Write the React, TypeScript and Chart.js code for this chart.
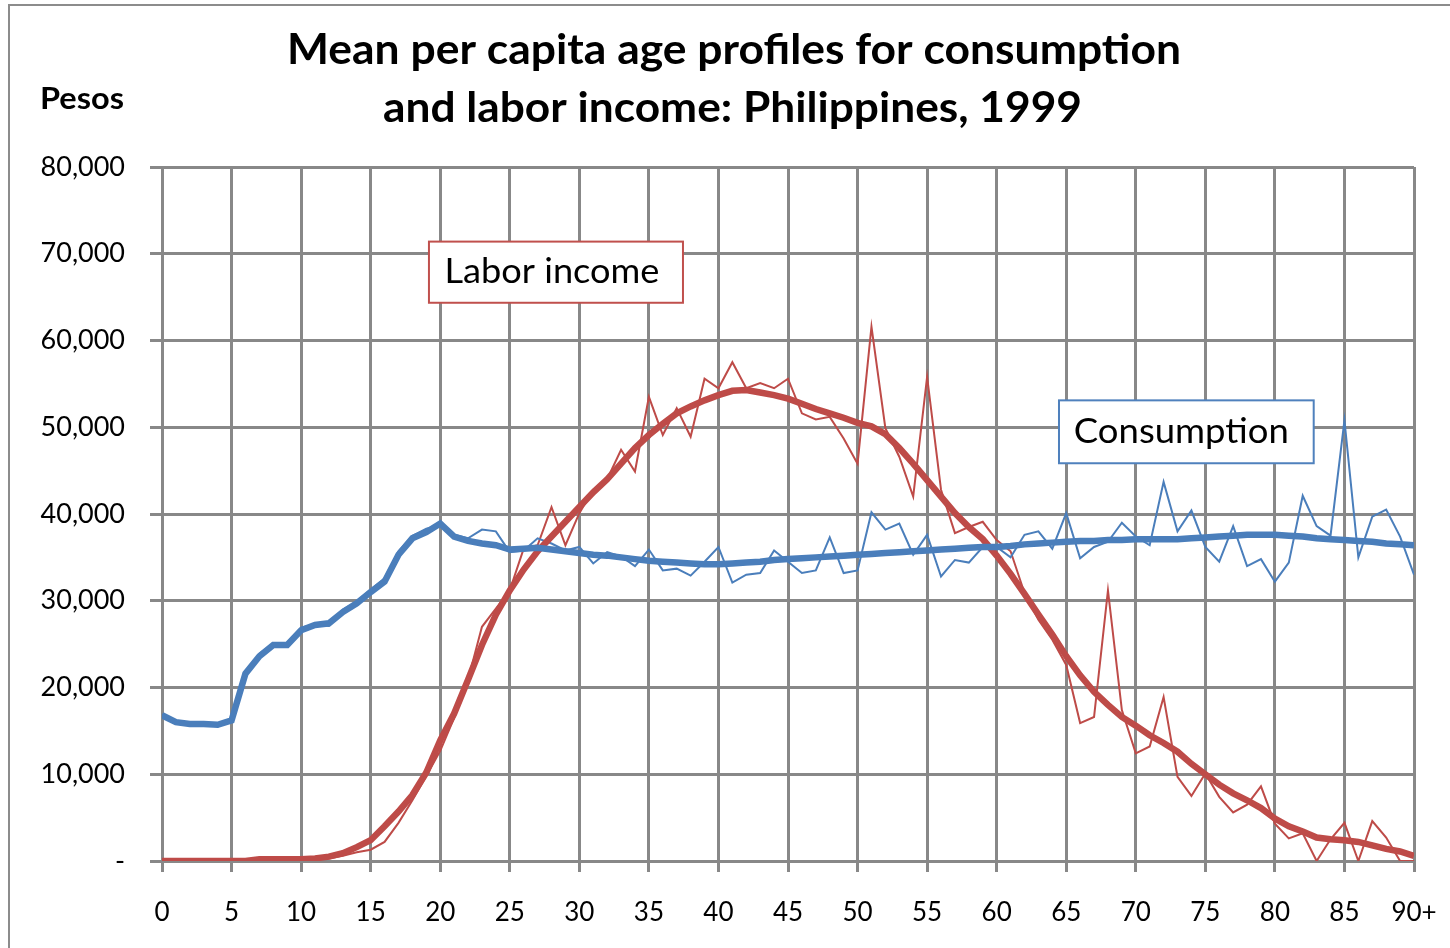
import React, { useEffect, useRef } from "react";
import { Chart, registerables } from "chart.js";

Chart.register(...registerables);

// Ages 0 .. 90 (90 = "90+")
const ages: number[] = Array.from({ length: 91 }, (_, i) => i);
const xTickValues = [0, 5, 10, 15, 20, 25, 30, 35, 40, 45, 50, 55, 60, 65, 70, 75, 80, 85, 90];
const xTickLabels = ["0", "5", "10", "15", "20", "25", "30", "35", "40", "45", "50", "55", "60", "65", "70", "75", "80", "85", "90+"];
const yTickValues = [0, 10000, 20000, 30000, 40000, 50000, 60000, 70000, 80000];
const yTickLabels = ["-", "10,000", "20,000", "30,000", "40,000", "50,000", "60,000", "70,000", "80,000"];

const titleLines = ["Mean per capita age profiles for consumption", "and labor income: Philippines, 1999"];
const yAxisTitle = "Pesos";

// Smoothed consumption profile (thick blue)
const consumptionSmooth = [
  16800, 16000, 15800, 15800, 15700, 16200, 21600, 23600, 24900, 24900, 26600, 27200, 27400, 28700, 29700, 31000, 32200, 35300, 37200, 37900, 38900,
  37400, 36900, 36600, 36400, 35900, 36000, 36100, 35900, 35700, 35500, 35300, 35200, 35000, 34800, 34600, 34500, 34400, 34300, 34200, 34200,
  34300, 34400, 34500, 34700, 34800, 34900, 35000, 35100, 35200, 35300, 35400, 35500, 35600, 35700, 35800, 35900, 36000, 36100, 36200, 36200,
  36300, 36500, 36600, 36700, 36800, 36900, 36900, 37000, 37000, 37100, 37100, 37100, 37100, 37200, 37300, 37400, 37500, 37600, 37600, 37600,
  37500, 37400, 37200, 37100, 37000, 36900, 36800, 36600, 36500, 36400,
];

// Raw consumption profile (thin blue)
const consumptionRaw = [
  16900, 16100, 15700, 16000, 15500, 16100, 21400, 23900, 25100, 24700, 26900, 27300, 27100, 29000, 29900, 31300, 32600, 35700, 37500, 38300, 38700,
  37600, 37200, 38200, 38000, 35600, 35800, 37200, 36600, 35800, 36200, 34300, 35600, 35100, 34000, 35900, 33500, 33700, 32900, 34500, 36200,
  32100, 33000, 33200, 35800, 34500, 33200, 33500, 37300, 33200, 33500, 40200, 38200, 38900, 35300, 37600, 32800, 34700, 34400, 36200, 36200,
  35000, 37600, 38000, 36000, 40100, 34900, 36200, 36800, 39000, 37400, 36400, 43700, 38000, 40400, 36200, 34500, 38600, 34000, 34800, 32200,
  34400, 42100, 38600, 37500, 50800, 35000, 39700, 40500, 37400, 33000,
];

// Smoothed labor income profile (thick red)
const laborSmooth = [
  0, 0, 0, 0, 0, 0, 0, 200, 200, 200, 200, 300, 500, 900, 1600, 2400, 4000, 5700, 7600, 10200, 13900,
  17000, 20900, 24900, 28400, 31200, 33600, 35700, 37400, 39100, 40800, 42500, 44000, 45800, 47600, 49100, 50400, 51600, 52400, 53100, 53700,
  54200, 54300, 54000, 53700, 53300, 52700, 52100, 51600, 51100, 50500, 50100, 49200, 47600, 45800, 43900, 42000, 40100, 38500, 37100, 35200,
  33100, 30800, 28400, 26100, 23600, 21400, 19500, 18000, 16600, 15600, 14500, 13600, 12600, 11200, 10000, 8800, 7800, 7000, 6100, 4900,
  4000, 3400, 2700, 2500, 2400, 2200, 1800, 1400, 1100, 600,
];

// Raw labor income profile (thin red)
const laborRaw = [
  0, 0, 0, 0, 0, 0, 0, 100, 100, 100, 100, 200, 300, 600, 1000, 1300, 2200, 4400, 7000, 9800, 12700,
  16500, 20900, 27000, 29100, 31200, 36000, 36400, 40800, 36400, 40100, 42800, 44000, 47400, 44900, 53500, 49100, 52200, 48900, 55600, 54500,
  57500, 54500, 55100, 54500, 55600, 51600, 50900, 51200, 48700, 45800, 61600, 49900, 46600, 42000, 55800, 42800, 37800, 38500, 39100, 37000,
  35700, 30900, 27800, 25500, 22600, 15900, 16600, 31200, 17400, 12400, 13200, 18900, 9700, 7500, 10100, 7400, 5600, 6500, 8600, 4300,
  2600, 3200, 0, 2500, 4400, 0, 4600, 2700, 0, 0,
];

const BLUE = "#4A7EBB";
const RED = "#BE4B48";
const BOX_BLUE = "#4F81BD";
const BOX_RED = "#C0504D";
const GRID = "#888888";
const FONT = "Lato, 'Open Sans', sans-serif";

// Annotation labels, placed in data units (age, pesos)
const annotationTexts = ["Labor income", "Consumption"];
const annotationColors = [BOX_RED, BOX_BLUE];
const annotationAgeLeft = [19.19, 64.48];
const annotationAgeRight = [37.45, 82.79];
const annotationTop = [71400, 53100];
const annotationBottom = [64350, 45850];
const annotationTextShift = [-4, -5];

function fitText(ctx: CanvasRenderingContext2D, text: string, cx: number, baseline: number, font: string, targetW: number) {
  ctx.save();
  ctx.font = font;
  const w = ctx.measureText(text).width;
  const s = targetW / w;
  ctx.translate(cx, baseline);
  ctx.scale(s, 1);
  ctx.textAlign = "center";
  ctx.textBaseline = "alphabetic";
  ctx.fillStyle = "#000";
  ctx.fillText(text, 0, 0);
  ctx.restore();
}

const decorPlugin = {
  id: "decor",
  beforeDraw(chart: any) {
    const ctx: CanvasRenderingContext2D = chart.ctx;
    ctx.save();
    ctx.fillStyle = "#fff";
    ctx.fillRect(0, 0, chart.width, chart.height);
    ctx.strokeStyle = "#8c8c8c";
    ctx.lineWidth = 2;
    ctx.beginPath();
    ctx.moveTo(9, chart.height + 2);
    ctx.lineTo(9, 5);
    ctx.lineTo(chart.width + 2, 5);
    ctx.stroke();
    ctx.restore();
    fitText(ctx, titleLines[0], 734, 64, `bold 42px ${FONT}`, 894);
    fitText(ctx, titleLines[1], 732.5, 122, `bold 42px ${FONT}`, 699);
    fitText(ctx, yAxisTitle, 82, 109, `bold 30px ${FONT}`, 84);
  },
  afterDraw(chart: any) {
    const ctx: CanvasRenderingContext2D = chart.ctx;
    const xs = chart.scales.x;
    const ys = chart.scales.y;
    for (let i = 0; i < annotationTexts.length; i++) {
      const l = xs.getPixelForValue(annotationAgeLeft[i]);
      const r = xs.getPixelForValue(annotationAgeRight[i]);
      const t = ys.getPixelForValue(annotationTop[i]);
      const b = ys.getPixelForValue(annotationBottom[i]);
      ctx.save();
      ctx.fillStyle = "#fff";
      ctx.fillRect(l, t, r - l, b - t);
      ctx.strokeStyle = annotationColors[i];
      ctx.lineWidth = 2;
      ctx.strokeRect(l, t, r - l, b - t);
      ctx.restore();
      fitText(ctx, annotationTexts[i], (l + r) / 2 + annotationTextShift[i], b - 20, `34px ${FONT}`, 215);
    }
  },
};

export default function App() {
  const ref = useRef<HTMLCanvasElement>(null);
  useEffect(() => {
    if (!ref.current) return;
    const mk = (arr: number[]) => ages.map((a, i) => ({ x: a, y: arr[i] }));
    const chart = new Chart(ref.current, {
      type: "line",
      data: {
        datasets: [
          { label: "Consumption (smoothed)", data: mk(consumptionSmooth), borderColor: BLUE, borderWidth: 6.5, pointRadius: 0, tension: 0 },
          { label: "Labor income (smoothed)", data: mk(laborSmooth), borderColor: RED, borderWidth: 6.5, pointRadius: 0, tension: 0 },
          { label: "Consumption", data: mk(consumptionRaw), borderColor: BLUE, borderWidth: 2, pointRadius: 0, tension: 0 },
          { label: "Labor income", data: mk(laborRaw), borderColor: RED, borderWidth: 2, pointRadius: 0, tension: 0 },
        ],
      },
      options: {
        animation: false,
        responsive: false,
        devicePixelRatio: 1,
        layout: { padding: { top: 167, right: 36, left: 0, bottom: 0 } },
        plugins: { legend: { display: false }, tooltip: { enabled: false }, title: { display: false } },
        scales: {
          x: {
            type: "linear",
            min: 0,
            max: 90,
            afterBuildTicks: (s: any) => {
              s.ticks = xTickValues.map((v) => ({ value: v }));
            },
            afterFit: (s: any) => {
              s.height = 87;
              s.paddingLeft = 0;
              s.paddingRight = 0;
            },
            ticks: {
              autoSkip: false,
              maxRotation: 0,
              padding: 25,
              color: "#000",
              font: { family: FONT, size: 26 },
              callback: (v: any) => xTickLabels[xTickValues.indexOf(Number(v))],
            },
            grid: { color: GRID, lineWidth: 3, tickLength: 11, tickColor: GRID },
            border: { display: false },
          },
          y: {
            min: 0,
            max: 80000,
            afterBuildTicks: (s: any) => {
              s.ticks = yTickValues.map((v) => ({ value: v }));
            },
            afterFit: (s: any) => {
              s.width = 162;
            },
            ticks: {
              padding: 25,
              color: "#000",
              font: { family: FONT, size: 27 },
              callback: (v: any) => yTickLabels[yTickValues.indexOf(Number(v))],
            },
            grid: { color: GRID, lineWidth: 3, tickLength: 12, tickColor: GRID },
            border: { display: false },
          },
        },
      },
      plugins: [decorPlugin],
    });
    return () => chart.destroy();
  }, []);
  return (
    <div style={{ position: "fixed", left: 0, top: 0, width: 1450, height: 948, background: "#fff" }}>
      <canvas ref={ref} width={1450} height={948} style={{ width: 1450, height: 948, display: "block" }} />
    </div>
  );
}
